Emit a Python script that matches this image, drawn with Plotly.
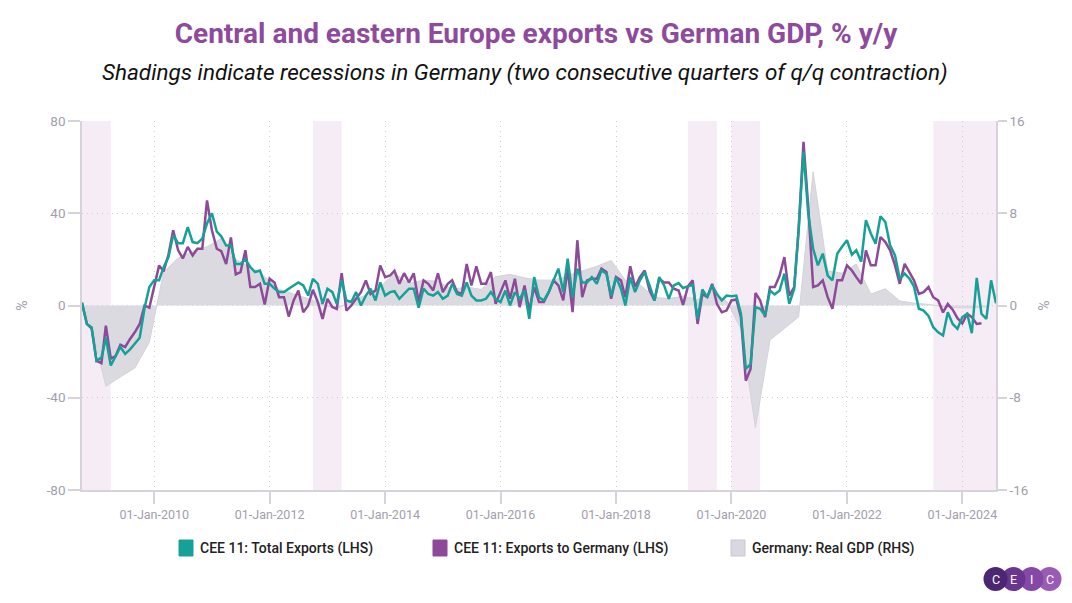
import pandas as pd
import plotly.graph_objects as go

title_text = "Central and eastern Europe exports vs German GDP, % y/y"
subtitle_text = "Shadings indicate recessions in Germany (two consecutive quarters of q/q contraction)"
series_names = ["CEE 11: Total Exports (LHS)", "CEE 11: Exports to Germany (LHS)", "Germany: Real GDP (RHS)"]

left_ticks = [-80, -40, 0, 40, 80]
left_tick_text = ["-80", "-40", "0", "40", "80"]
right_ticks = [-16, -8, 0, 8, 16]
right_tick_text = ["-16", "-8", "0", "8", "16"]

# Monthly, % y/y, from Oct 2008
total_exports = [
    1.3, -8, -9.5, -24, -22.6, -14, -26, -22, -18, -21,
    -19, -16.5, -14, -1, 8, 11, 11, 16.5, 21, 30.5,
    27, 27, 34, 27.5, 27, 29, 35.6, 40, 32, 30,
    26, 26, 18, 18, 20, 16.7, 14.5, 15.2, 9.4, 9.4,
    7.3, 5.8, 5.8, 7.3, 8.5, 10, 8.7, 4.3, 11.6, 9.4,
    0.7, 7.3, 5.8, 0.7, 10.9, 2.2, 1.5, 5.8, 0, 4.3,
    7.3, 2.2, 10, 4.3, 5.8, 6.2, 2.9, 5, 7.3, 7.3,
    -1, 7.3, 5, 4.3, 5.8, 2.9, 4.3, 9.4, 5, 4.3,
    10, 4.3, 2.2, 2.2, 2.9, 5.8, 2.9, 1.5, 6.5, 0,
    5.8, 2.9, 6.5, -5.8, 12.3, 3.6, 2.2, 5.8, 10.9, 16,
    5.8, 20.3, 3.6, 16, 10, 10, 12.3, 9.4, 15.2, 13.8,
    4.3, 12.3, 7.3, 0, 12.3, 5.8, 10.9, 14.5, 8.7, 2.2,
    12.3, 8.7, 2.9, 8.7, 9.7, 7.6, 8.3, 8.9, -5.8, 7,
    3.6, 8.7, 5, 2.2, 4.3, 4, 4.3, -3.6, -27.5, -25.4,
    -0.7, -1.4, -4.3, 6.5, 4.8, 6.5, 13.8, 0.7, 7.2, 32.6,
    66.7, 39.8, 24.6, 17.4, 22.5, 13, 10.9, 22.5, 25.5, 28.3,
    22, 24, 19, 37, 31.2, 26.8, 38.7, 36.2, 26.1, 21.7,
    11.5, 13.8, 11.6, 8.3, -1.4, -2.2, -4.5, -9.4, -11.6, -13,
    -2.9, -8, -10.1, -5, -3.6, -12, 12, -3.6, -5.8, 10.9,
    1,
]

exports_to_germany = [
    1, -8, -10, -24, -25, -8.7, -23, -22, -17, -18,
    -14.5, -11.5, -8, 0, -1, 8, 17.4, 14.8, 22, 32.6,
    24, 20.4, 25.4, 21.7, 24.6, 24.6, 45.6, 32.6, 24.6, 23.6,
    18, 29.5, 13.5, 14.5, 24, 8, 8, 9.4, 0.4, 11.6,
    10, 3.6, 3.6, -4.8, 2.2, 6.5, -2.9, 0, 6.8, 1.5,
    -5.8, 2.9, -0.7, -1.5, 14, -2.2, 0, 2.9, 5.8, 10.9,
    5, 6.5, 17.4, 12.3, 13, 15, 9.4, 14, 10, 14,
    1.5, 10.9, 9.4, 6.5, 14, 5.8, 9.4, 10.9, 5.8, 5,
    18, 8.7, 17, 9.4, 9.4, 14.5, 0.7, 5.8, 10.9, 2.9,
    11.6, -0.7, 8.7, -2.2, 8, 1.5, 1.5, 5.8, 10.9, 8.7,
    2.2, 16, -2.9, 28.3, 3.6, 10.9, 11.6, 11.6, 16, 14.5,
    2.9, 12.3, 10.9, 3.6, 17, 8, 12.3, 15.2, 6.5, 2.2,
    11.6, 10, 10, 7.3, 6.5, 0.3, 8.3, 10.9, -8, 5,
    3.6, 9.4, 0.7, -2.9, -2.2, 2.2, 2.6, -5, -32.6, -27.5,
    5.4, 2.2, -5, 8, 8, 13, 21, 4.3, 8, 32.6,
    71, 42.7, 8, 8.7, 10.9, 3.6, -1.4, 11, 11, 17.4,
    15.2, 12.3, 9.4, 23.9, 17.4, 17.4, 29.7, 27.5, 23.9, 17.4,
    9.4, 18.1, 14.5, 10.9, 5, 5.8, 8, 3.6, 2.2, -3,
    0.7, -1.8, -5.5, -7.7, -3.6, -5, -8, -7.7,
]

# Quarterly, % y/y, from Q3 2008
german_gdp = [
    0.8, -1.9,
    -7.0, -6.2, -5.4, -3.2,
    2.9, 4.1, 4.7, 5.1,
    5.8, 4.0, 3.3, 2.5,
    1.4, 1.0, 0.6, 0.1,
    -0.3, 0.4, 0.9, 1.6,
    2.8, 1.9, 2.2, 2.1,
    1.4, 1.6, 1.4, 2.5,
    2.7, 2.4, 2.2, 2.2,
    2.6, 3.0, 3.4, 3.9,
    2.2, 1.8, 0.7, 0.6,
    0.8, 0.5, 1.2, 0.4,
    -2.0, -10.6, -3.0, -2.0,
    -1.0, 11.6, 3.0, 2.8,
    3.6, 1.0, 1.45, 0.4,
    0.2, 0.1, -0.1, -0.2,
    -0.2, -0.1,
]

recession_start = ["2008-10-01", "2012-10-01", "2019-04-01", "2020-01-01", "2023-07-01"]
recession_end = ["2009-04-01", "2013-04-01", "2019-10-01", "2020-07-01", "2024-08-01"]

months_te = pd.date_range("2008-10-01", periods=len(total_exports), freq="MS")
months_eg = pd.date_range("2008-10-01", periods=len(exports_to_germany), freq="MS")
quarters = pd.date_range("2008-09-01", periods=len(german_gdp), freq="3MS")

TEAL = "#17A097"
PURPLE = "#8C4A99"
GREY_FILL = "#DCDAE1"
TICK = "#A29EAB"
GRID = "#D6D3DB"
DOTGRID = "#CFCCD5"
SHADE = "#F6ECF6"

W, H = 1072, 603
L, R, T, B = 82, 76, 121, 113
PW, PH = W - L - R, H - T - B


def px(xp):
    return (xp - L) / PW


def py(yp):
    return (H - B - yp) / PH


fig = go.Figure()
fig.add_trace(go.Scatter(
    x=quarters, y=german_gdp, name=series_names[2], yaxis="y", mode="lines",
    fill="tozeroy", fillcolor=GREY_FILL, line=dict(color="#D4D2DA", width=1),
    showlegend=False,
))
fig.add_trace(go.Scatter(
    x=months_eg, y=exports_to_germany, name=series_names[1], yaxis="y2", mode="lines",
    line=dict(color=PURPLE, width=2.5), showlegend=False,
))
fig.add_trace(go.Scatter(
    x=months_te, y=total_exports, name=series_names[0], yaxis="y2", mode="lines",
    line=dict(color=TEAL, width=2.5), showlegend=False,
))

shapes = []
for s, e in zip(recession_start, recession_end):
    shapes.append(dict(type="rect", xref="x", yref="paper", x0=s, x1=e, y0=0, y1=1,
                       fillcolor=SHADE, line=dict(width=0), layer="below"))

# legend (manual)
legend_x = [179, 433, 731]
legend_cols = [TEAL, PURPLE, "#D9D7DF"]
annotations = []
for xl, col, name in zip(legend_x, legend_cols, series_names):
    shapes.append(dict(type="rect", xref="paper", yref="paper",
                       x0=px(xl), x1=px(xl + 14), y0=py(556), y1=py(540),
                       fillcolor=col, line=dict(color=col if col != "#D9D7DF" else "#C9C6D0", width=1)))
    annotations.append(dict(text=name, xref="paper", yref="paper", x=px(xl + 19), y=py(548),
                            xanchor="left", yanchor="middle", showarrow=False,
                            font=dict(family="Roboto", size=14, color="#222222", weight=500)))

# subtitle
annotations.append(dict(text="<i>" + subtitle_text + "</i>", xref="paper", yref="paper",
                        x=px(525), y=py(73), xanchor="center", yanchor="middle", showarrow=False,
                        font=dict(family="Roboto", size=22.5, color="#111111")))

# CEIC logo
logo_cols = ["#4B2672", "#6A3590", "#8548A6", "#9A5BB7"]
logo_letters = ["C", "E", "I", "C"]
for i in range(3, -1, -1):
    cx = 995.5 + i * 18
    shapes.append(dict(type="circle", xref="paper", yref="paper",
                       x0=px(cx - 12), x1=px(cx + 12), y0=py(591), y1=py(567),
                       fillcolor=logo_cols[i], line=dict(width=0)))
for i in range(4):
    cx = 995.5 + i * 18
    annotations.append(dict(text=logo_letters[i], xref="paper", yref="paper", x=px(cx), y=py(579),
                            xanchor="center", yanchor="middle", showarrow=False,
                            font=dict(family="Roboto", size=12.5, color="white")))

fig.update_layout(
    width=W, height=H,
    margin=dict(l=L, r=R, t=T, b=B, pad=0),
    paper_bgcolor="white", plot_bgcolor="white",
    font=dict(family="Roboto", color=TICK),
    title=dict(text="<b>" + title_text + "</b>", xref="container", x=0.5, xanchor="center",
               yref="container", y=1 - 33 / H, yanchor="middle",
               font=dict(family="Roboto", size=28, color="#8E4A9D")),
    showlegend=False,
    shapes=shapes,
    annotations=annotations,
    xaxis=dict(
        type="date", range=["2008-10-01", "2024-08-01"],
        tick0="2010-01-01", dtick="M24", tickformat="%d-%b-%Y",
        showgrid=True, gridcolor=DOTGRID, griddash="1px,4px", gridwidth=1,
        showline=True, linecolor=GRID, linewidth=1.5,
        ticks="outside", ticklen=12, tickcolor=GRID, tickwidth=1.5,
        tickfont=dict(family="Roboto", size=12.5, color=TICK),
        zeroline=False,
    ),
    yaxis=dict(
        side="right", range=[-16, 16], tickvals=right_ticks, ticktext=right_tick_text,
        showgrid=True, gridcolor=DOTGRID, griddash="1px,4px", gridwidth=1,
        zeroline=False, showline=True, linecolor=GRID, linewidth=1.5,
        ticks="outside", ticklen=9, tickcolor=GRID, tickwidth=1.5,
        tickfont=dict(family="Roboto", size=13.5, color=TICK),
        title=dict(text="%", font=dict(family="Roboto", size=14, color=TICK), standoff=12),
    ),
    yaxis2=dict(
        overlaying="y", side="left", range=[-80, 80], tickvals=left_ticks, ticktext=left_tick_text,
        showgrid=False, zeroline=False, showline=True, linecolor=GRID, linewidth=1.5,
        ticks="outside", ticklen=12, tickcolor=GRID, tickwidth=1.5,
        tickfont=dict(family="Roboto", size=13.5, color=TICK),
        title=dict(text="%", font=dict(family="Roboto", size=14, color=TICK), standoff=16),
    ),
)

fig.write_html("out.html")
